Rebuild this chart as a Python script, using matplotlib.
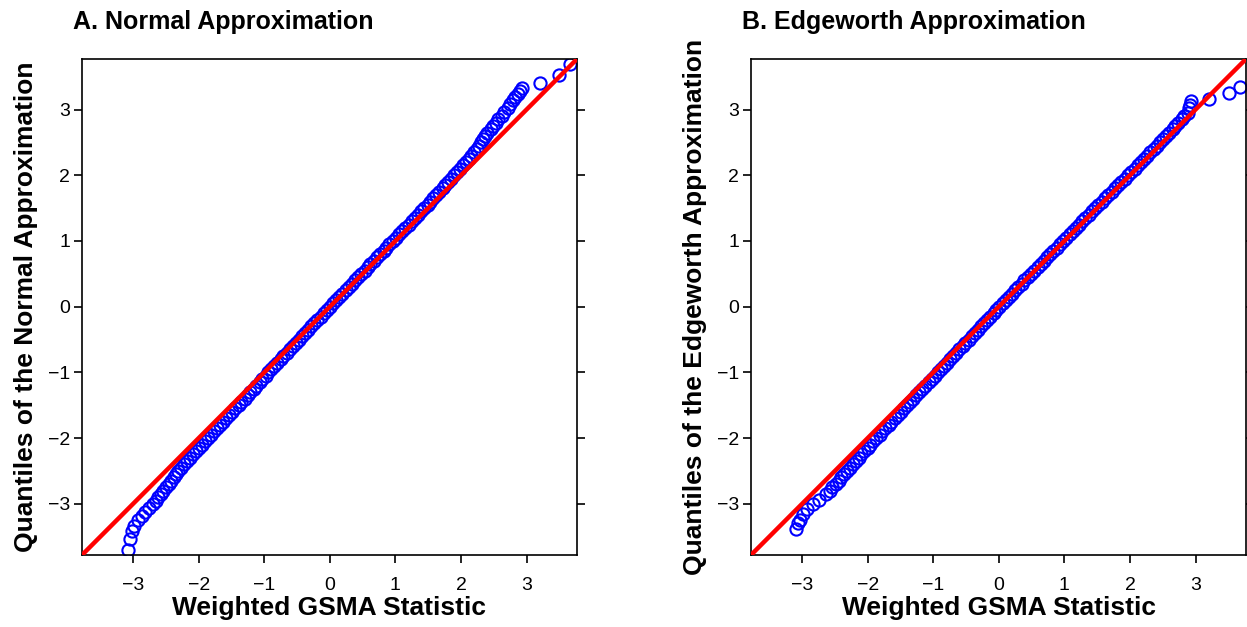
import matplotlib
matplotlib.use("Agg")
import matplotlib.pyplot as plt

plt.rcParams["font.family"] = ["Liberation Sans", "DejaVu Sans"]

#---------------------------
# Data
#---------------------------

# Panel A : weighted GSMA statistic (x) vs normal approximation quantiles (y)
norm_y = [-3.71, -3.54, -3.41, -3.34, -3.24, -3.19, -3.13, -3.07, -3.01, -2.96,
          -2.90, -2.85, -2.80, -2.75, -2.70, -2.65, -2.60, -2.55, -2.50, -2.45,
          -2.40, -2.35, -2.30, -2.25, -2.20, -2.15, -2.10, -2.05, -2.00, -1.95,
          -1.90, -1.85, -1.80, -1.75, -1.70, -1.65, -1.60, -1.55, -1.50, -1.45,
          -1.40, -1.35, -1.30, -1.25, -1.20, -1.15, -1.10, -1.05, -1.00, -0.95,
          -0.90, -0.85, -0.80, -0.75, -0.70, -0.65, -0.60, -0.55, -0.50, -0.45,
          -0.40, -0.35, -0.30, -0.25, -0.20, -0.15, -0.10, -0.05, 0.00, 0.05,
          0.10, 0.15, 0.20, 0.25, 0.30, 0.35, 0.40, 0.45, 0.50, 0.55,
          0.60, 0.65, 0.70, 0.75, 0.80, 0.85, 0.90, 0.95, 1.00, 1.05,
          1.10, 1.15, 1.20, 1.25, 1.30, 1.35, 1.40, 1.45, 1.50, 1.55,
          1.60, 1.65, 1.70, 1.75, 1.80, 1.85, 1.90, 1.95, 2.00, 2.05,
          2.10, 2.15, 2.20, 2.25, 2.30, 2.35, 2.40, 2.45, 2.50, 2.55,
          2.60, 2.65, 2.70, 2.75, 2.80, 2.85, 2.90, 2.96, 3.02, 3.08,
          3.14, 3.19, 3.24, 3.28, 3.33, 3.41, 3.52, 3.69]
norm_x = [-3.08, -3.05, -3.02, -2.99, -2.92, -2.87, -2.82, -2.76, -2.70, -2.65,
          -2.62, -2.58, -2.54, -2.50, -2.46, -2.42, -2.38, -2.35, -2.31, -2.27,
          -2.22, -2.18, -2.13, -2.09, -2.04, -2.00, -1.95, -1.91, -1.86, -1.82,
          -1.77, -1.72, -1.68, -1.63, -1.58, -1.54, -1.49, -1.44, -1.39, -1.35,
          -1.30, -1.25, -1.21, -1.16, -1.12, -1.07, -1.03, -0.98, -0.94, -0.89,
          -0.85, -0.80, -0.75, -0.71, -0.66, -0.61, -0.56, -0.52, -0.47, -0.42,
          -0.38, -0.33, -0.28, -0.24, -0.19, -0.14, -0.09, -0.05, 0.00, 0.05,
          0.10, 0.14, 0.19, 0.24, 0.29, 0.34, 0.38, 0.43, 0.48, 0.53,
          0.58, 0.62, 0.67, 0.72, 0.77, 0.82, 0.86, 0.91, 0.96, 1.01,
          1.06, 1.10, 1.15, 1.20, 1.25, 1.30, 1.34, 1.39, 1.44, 1.49,
          1.53, 1.58, 1.62, 1.67, 1.72, 1.76, 1.81, 1.85, 1.90, 1.94,
          1.99, 2.03, 2.07, 2.12, 2.16, 2.20, 2.24, 2.27, 2.31, 2.34,
          2.37, 2.40, 2.46, 2.49, 2.53, 2.57, 2.62, 2.66, 2.71, 2.75,
          2.79, 2.83, 2.87, 2.90, 2.93, 3.21, 3.50, 3.67]

# Panel B : weighted GSMA statistic (x) vs Edgeworth approximation quantiles (y)
edge_y = [-3.38, -3.30, -3.24, -3.16, -3.08, -3.01, -2.94,
          -2.85, -2.80, -2.75, -2.70, -2.65, -2.60, -2.55, -2.50, -2.45,
          -2.40, -2.35, -2.30, -2.25, -2.20, -2.15, -2.10, -2.05, -2.00, -1.95,
          -1.90, -1.85, -1.80, -1.75, -1.70, -1.65, -1.60, -1.55, -1.50, -1.45,
          -1.40, -1.35, -1.30, -1.25, -1.20, -1.15, -1.10, -1.05, -1.00, -0.95,
          -0.90, -0.85, -0.80, -0.75, -0.70, -0.65, -0.60, -0.55, -0.50, -0.45,
          -0.40, -0.35, -0.30, -0.25, -0.20, -0.15, -0.10, -0.05, 0.00, 0.05,
          0.10, 0.15, 0.20, 0.25, 0.30, 0.35, 0.40, 0.45, 0.50, 0.55,
          0.60, 0.65, 0.70, 0.75, 0.80, 0.85, 0.90, 0.95, 1.00, 1.05,
          1.10, 1.15, 1.20, 1.25, 1.30, 1.35, 1.40, 1.45, 1.50, 1.55,
          1.60, 1.65, 1.70, 1.75, 1.80, 1.85, 1.90, 1.95, 2.00, 2.05,
          2.10, 2.15, 2.20, 2.25, 2.30, 2.35, 2.40, 2.45, 2.50, 2.55,
          2.60, 2.65, 2.70, 2.75, 2.80, 2.85, 2.90, 2.95, 3.02, 3.07,
          3.13, 3.16, 3.25, 3.34]
edge_x = [-3.09, -3.07, -3.04, -2.99, -2.92, -2.84, -2.75,
          -2.63, -2.58, -2.54, -2.49, -2.44, -2.40, -2.36, -2.31, -2.27,
          -2.22, -2.18, -2.14, -2.10, -2.05, -2.00, -1.96, -1.92, -1.87, -1.82,
          -1.78, -1.73, -1.68, -1.64, -1.59, -1.54, -1.49, -1.45, -1.40, -1.35,
          -1.31, -1.26, -1.21, -1.17, -1.12, -1.07, -1.02, -0.98, -0.93, -0.88,
          -0.84, -0.79, -0.74, -0.70, -0.65, -0.60, -0.55, -0.51, -0.46, -0.41,
          -0.37, -0.32, -0.27, -0.23, -0.18, -0.13, -0.08, -0.04, 0.01, 0.06,
          0.11, 0.15, 0.20, 0.25, 0.30, 0.35, 0.39, 0.44, 0.49, 0.54,
          0.59, 0.64, 0.69, 0.74, 0.78, 0.83, 0.88, 0.93, 0.98, 1.03,
          1.08, 1.13, 1.18, 1.23, 1.27, 1.32, 1.37, 1.42, 1.47, 1.52,
          1.57, 1.62, 1.67, 1.72, 1.77, 1.82, 1.87, 1.92, 1.97, 2.02,
          2.07, 2.12, 2.17, 2.21, 2.26, 2.31, 2.36, 2.41, 2.46, 2.51,
          2.55, 2.60, 2.65, 2.69, 2.74, 2.79, 2.83, 2.88, 2.90, 2.92,
          2.93, 3.21, 3.51, 3.68]

ticks = [-3, -2, -1, 0, 1, 2, 3]
lim = (-3.78, 3.77)

panels = [
    ("A. Normal Approximation", "Quantiles of the Normal Approximation", norm_x, norm_y, 82),
    ("B. Edgeworth Approximation", "Quantiles of the Edgeworth Approximation", edge_x, edge_y, 751),
]

#---------------------------
# Figure
#---------------------------

W, H = 1247, 627
fig = plt.figure(figsize=(W / 100, H / 100), dpi=100)

for title, ylab, xs, ys, left_px in panels:
    ax = fig.add_axes([left_px / W, (H - 555) / H, 495 / W, 496 / H])

    ax.plot(xs, ys, linestyle="none", marker="o", markersize=8.8,
            markerfacecolor="none", markeredgecolor="#0000FF", markeredgewidth=1.5, zorder=2)
    ax.axline((0, 0), slope=1, color="#FF0000", linewidth=3.2, zorder=3)

    ax.set_xlim(lim)
    ax.set_ylim(lim)
    ax.set_xticks(ticks)
    ax.set_yticks(ticks)
    ax.tick_params(axis="both", direction="out", length=5.5, width=1.2, labelsize=14)
    ax.tick_params(axis="x", pad=10)
    ax.tick_params(axis="y", pad=3, right=True, labelright=False)
    for sp in ax.spines.values():
        sp.set_linewidth(1.2)

    ax.set_xlabel("Weighted GSMA Statistic", fontsize=19, fontweight="bold", labelpad=2)
    ax.set_ylabel(ylab, fontsize=19, fontweight="bold", labelpad=7)

    fig.text((left_px - 9) / W, 1 - 22 / H, title, fontsize=18, fontweight="bold",
             ha="left", va="center")

fig.savefig("out.png", dpi=100)
